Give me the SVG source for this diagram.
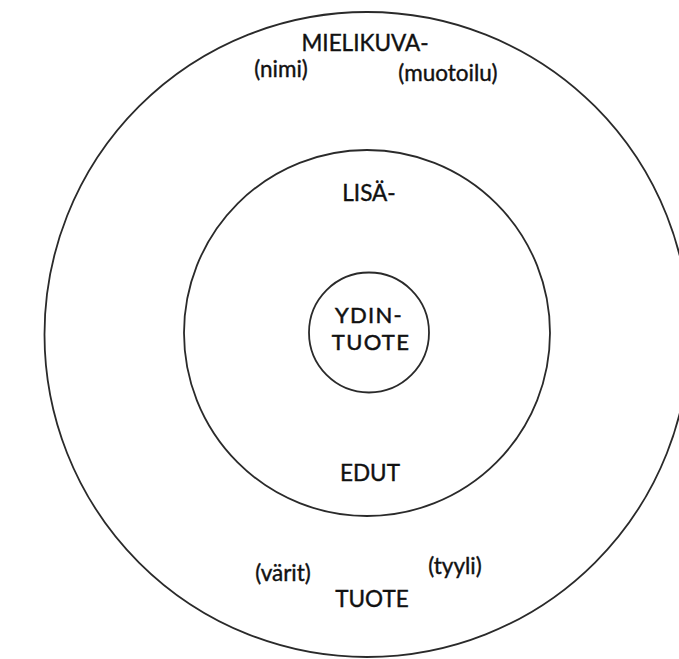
<svg xmlns="http://www.w3.org/2000/svg" width="679" height="659" viewBox="0 0 679 659">
<style>
.ring{fill:none;stroke:#2a2a2a;stroke-width:1.8}
.t{font-family:Lato,"Liberation Sans",sans-serif;fill:#111;stroke:#111;stroke-width:0.4;text-anchor:middle}
.m{font-size:22.5px}
.b{font-size:22px;letter-spacing:1.3px;stroke-width:0.5}
</style>
<rect width="679" height="659" fill="#ffffff"/>
<g id="outer">
<circle class="ring" cx="367" cy="334.5" r="322.5"/>
<text class="t m" x="365" y="51">MIELIKUVA-</text>
<text class="t m" x="281" y="77">(nimi)</text>
<text class="t m" x="448" y="81">(muotoilu)</text>
<text class="t m" x="283" y="581">(värit)</text>
<text class="t m" x="455" y="574">(tyyli)</text>
<text class="t m" x="372" y="607">TUOTE</text>
</g>
<g id="middle">
<circle class="ring" cx="367" cy="333" r="183"/>
<text class="t m" x="369" y="201">LISÄ-</text>
<text class="t m" x="370" y="481">EDUT</text>
</g>
<g id="core">
<circle class="ring" cx="369" cy="332.5" r="60"/>
<text class="t b" x="369" y="323">YDIN-</text>
<text class="t b" x="371" y="350">TUOTE</text>
</g>
<g id="connectors"/>
</svg>
